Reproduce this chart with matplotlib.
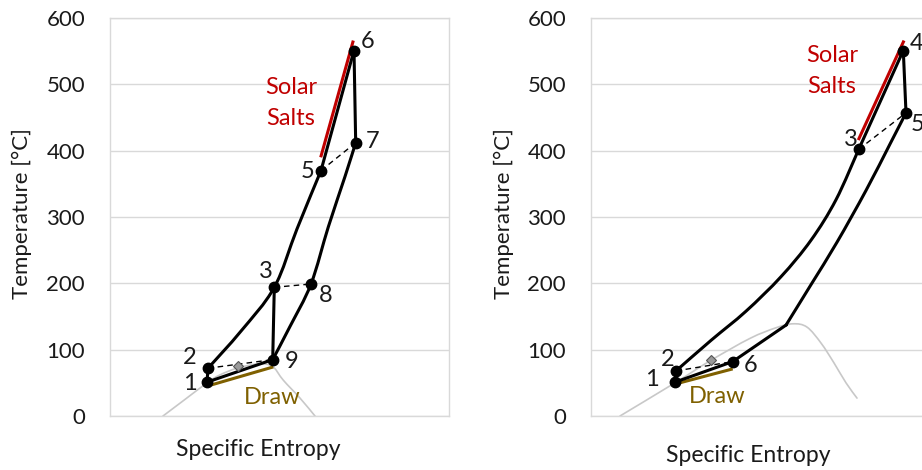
import matplotlib
matplotlib.use("Agg")
import matplotlib.pyplot as plt
from matplotlib.path import Path
from matplotlib.patches import PathPatch

plt.rcParams['font.family'] = ['Lato', 'DejaVu Sans']

# ---------------- data (entropy in arbitrary units, temperature in °C) ----------------
yticks = [0, 100, 200, 300, 400, 500, 600]

# Left cycle: segments (smooth ones are drawn with Excel-like smoothing)
left_12_s = [0.97, 0.98]
left_12_T = [51, 72]
left_25_s = [0.98, 1.31, 1.643, 1.87, 2.11]
left_25_T = [72, 128, 194, 282, 370]
left_56_s = [2.11, 2.44]
left_56_T = [370, 551]
left_67_s = [2.44, 2.457]
left_67_T = [551, 412]
left_79_s = [2.457, 2.35, 2.183, 2.01, 1.80, 1.627]
left_79_T = [412, 361, 285, 199, 135, 85]
left_91_s = [1.627, 0.97]
left_91_T = [85, 51]
left_comp_s = [1.627, 1.643]
left_comp_T = [85, 194]
left_labels = ['1', '2', '3', '5', '6', '7', '8', '9']
left_state_s = [0.97, 0.98, 1.643, 2.11, 2.44, 2.457, 2.01, 1.627]
left_state_T = [51, 72, 194, 370, 551, 412, 199, 85]
left_dashed = [('2', '9'), ('3', '8'), ('5', '7')]
left_dome_s = [0.53, 0.75, 0.98, 1.10, 1.267, 1.45, 1.567, 1.64, 1.733, 1.90, 2.05]
left_dome_T = [0, 25, 51, 62, 72, 78, 78, 73, 54, 27, 0]
left_diamond = (1.277, 75)
left_solar_s = [2.107, 2.433]
left_solar_T = [390, 566]
left_draw_s = [1.017, 1.633]
left_draw_T = [47, 74]

# Right cycle
right_12_s = [0.84, 0.85]
right_12_T = [51, 68]
right_23_s = [0.85, 1.20, 1.55, 1.90, 2.20, 2.45, 2.677]
right_23_T = [68, 114, 158, 210, 265, 326, 402]
right_34_s = [2.677, 3.123]
right_34_T = [402, 551]
right_45_s = [3.123, 3.15]
right_45_T = [551, 457]
right_5k_s = [3.15, 2.99, 2.75, 2.46, 2.20, 1.95]
right_5k_T = [457, 410, 340, 262, 198, 137]
right_k61_s = [1.95, 1.417, 0.84]
right_k61_T = [137, 82, 51]
right_labels = ['1', '2', '3', '4', '5', '6']
right_state_s = [0.84, 0.85, 2.677, 3.123, 3.15, 1.417]
right_state_T = [51, 68, 402, 551, 457, 82]
right_dashed = [('2', '6'), ('3', '5')]
right_dome_s = [0.29, 0.84, 1.20, 1.59, 1.85, 2.02, 2.16, 2.30, 2.43, 2.55, 2.66]
right_dome_T = [0, 50, 84, 117, 133, 139, 134, 110, 80, 50, 27]
right_diamond = (1.20, 85)
right_solar_s = [2.673, 3.13]
right_solar_T = [416, 566]
right_draw_s = [0.863, 1.417]
right_draw_T = [49, 71]

# label offsets in pixels (style)
left_offsets = {'1': (-17, -1), '2': (-18, 11), '3': (-8, 16), '5': (-13, -1),
                '6': (14, 9), '7': (17, 1), '8': (15, -12), '9': (19, -2)}
right_offsets = {'1': (-23, 3), '2': (-8, 11), '3': (-8, 10), '4': (13, 7),
                 '5': (12, -12), '6': (18, -4)}

RED = '#C00000'
GOLD = '#7F6000'
GRID = '#D9D9D9'
DOME = '#C8C8C8'
TXT = '#1a1a1a'

W, H = 922, 470
fig = plt.figure(figsize=(W / 100, H / 100), dpi=100)


def smooth(ax, xs, ys, **kw):
    """Draw a line through the points with Excel-style (Catmull-Rom) smoothing."""
    pts = list(zip(xs, ys))
    n = len(pts)
    if n < 3:
        ax.plot(xs, ys, **kw)
        return
    verts = [pts[0]]
    codes = [Path.MOVETO]
    for i in range(n - 1):
        p0 = pts[i - 1] if i > 0 else pts[i]
        p1 = pts[i]
        p2 = pts[i + 1]
        p3 = pts[i + 2] if i + 2 < n else pts[i + 1]
        c1 = (p1[0] + (p2[0] - p0[0]) / 6, p1[1] + (p2[1] - p0[1]) / 6)
        c2 = (p2[0] - (p3[0] - p1[0]) / 6, p2[1] - (p3[1] - p1[1]) / 6)
        verts += [c1, c2, p2]
        codes += [Path.CURVE4] * 3
    color = kw.pop('color', 'black')
    lw = kw.pop('lw', 1)
    z = kw.pop('zorder', 2)
    ax.add_patch(PathPatch(Path(verts, codes), fill=False, edgecolor=color,
                           lw=lw, zorder=z, capstyle='round', joinstyle='round'))


def setup(ax):
    ax.set_xlim(0, 3.39)
    ax.set_ylim(0, 600)
    ax.set_yticks(yticks)
    ax.set_xticks([])
    ax.grid(axis='y', color=GRID, lw=1.0)
    ax.set_axisbelow(True)
    for sp in ax.spines.values():
        sp.set_color(GRID)
        sp.set_linewidth(1.0)
    ax.tick_params(axis='y', length=0, pad=18, labelsize=16, labelcolor=TXT)


def annotate_states(ax, labels, ss, TT, offsets):
    ax.plot(ss, TT, 'o', color='black', ms=7.5, zorder=6)
    for l, s, t in zip(labels, ss, TT):
        ax.annotate(l, (s, t), xytext=offsets[l], textcoords='offset pixels',
                    ha='center', va='center', fontsize=17, color=TXT, zorder=7)


def dashed(ax, pairs, labels, ss, TT):
    idx = {l: i for i, l in enumerate(labels)}
    for a, b in pairs:
        ax.plot([ss[idx[a]], ss[idx[b]]], [TT[idx[a]], TT[idx[b]]],
                color='black', lw=1.0, ls=(0, (4, 3)), zorder=3)


LW = 2.2
ax1 = fig.add_axes([110 / W, (H - 416) / H, 339 / W, 398 / H])
ax2 = fig.add_axes([591 / W, (H - 416) / H, 339 / W, 398 / H])
setup(ax1)
setup(ax2)

# ---- left ----
smooth(ax1, left_dome_s, left_dome_T, color=DOME, lw=1.2, zorder=2)
ax1.plot(left_draw_s, left_draw_T, color=GOLD, lw=LW, zorder=3, solid_capstyle='butt')
ax1.plot(left_solar_s, left_solar_T, color=RED, lw=LW, zorder=3, solid_capstyle='butt')
dashed(ax1, left_dashed, left_labels, left_state_s, left_state_T)
for xs, ys in [(left_12_s, left_12_T), (left_56_s, left_56_T), (left_67_s, left_67_T),
               (left_91_s, left_91_T), (left_comp_s, left_comp_T)]:
    ax1.plot(xs, ys, color='black', lw=LW, zorder=4)
smooth(ax1, left_25_s, left_25_T, color='black', lw=LW, zorder=4)
smooth(ax1, left_79_s, left_79_T, color='black', lw=LW, zorder=4)
ax1.plot([left_diamond[0]], [left_diamond[1]], marker='D', ms=5, color='#9a9a9a',
         mec='#555555', mew=0.8, ls='none', zorder=5)
annotate_states(ax1, left_labels, left_state_s, left_state_T, left_offsets)
ax1.text(1.81, 472, 'Solar\nSalts', color=RED, fontsize=17, ha='center',
         va='center', linespacing=1.55)
ax1.text(1.62, 28, 'Draw', color=GOLD, fontsize=17, ha='center', va='center')

# ---- right ----
smooth(ax2, right_dome_s, right_dome_T, color=DOME, lw=1.2, zorder=2)
ax2.plot(right_draw_s, right_draw_T, color=GOLD, lw=LW, zorder=3, solid_capstyle='butt')
ax2.plot(right_solar_s, right_solar_T, color=RED, lw=LW, zorder=3, solid_capstyle='butt')
dashed(ax2, right_dashed, right_labels, right_state_s, right_state_T)
for xs, ys in [(right_12_s, right_12_T), (right_34_s, right_34_T),
               (right_45_s, right_45_T), (right_k61_s, right_k61_T)]:
    ax2.plot(xs, ys, color='black', lw=LW, zorder=4)
smooth(ax2, right_23_s, right_23_T, color='black', lw=LW, zorder=4)
smooth(ax2, right_5k_s, right_5k_T, color='black', lw=LW, zorder=4)
ax2.plot([right_diamond[0]], [right_diamond[1]], marker='D', ms=5, color='#9a9a9a',
         mec='#555555', mew=0.8, ls='none', zorder=5)
annotate_states(ax2, right_labels, right_state_s, right_state_T, right_offsets)
ax2.text(2.41, 520, 'Solar\nSalts', color=RED, fontsize=17, ha='center',
         va='center', linespacing=1.55)
ax2.text(1.263, 30, 'Draw', color=GOLD, fontsize=17, ha='center', va='center')

fig.text(22 / W, 1 - 214 / H, 'Temperature [°C]', rotation=90, ha='center',
         va='center', fontsize=16, color=TXT)
fig.text(504 / W, 1 - 214 / H, 'Temperature [°C]', rotation=90, ha='center',
         va='center', fontsize=16, color=TXT)
fig.text(258 / W, 1 - 450 / H, 'Specific Entropy', ha='center', va='center',
         fontsize=16.5, color=TXT)
fig.text(748 / W, 1 - 456 / H, 'Specific Entropy', ha='center', va='center',
         fontsize=16.5, color=TXT)

fig.savefig('out.png', dpi=100)
